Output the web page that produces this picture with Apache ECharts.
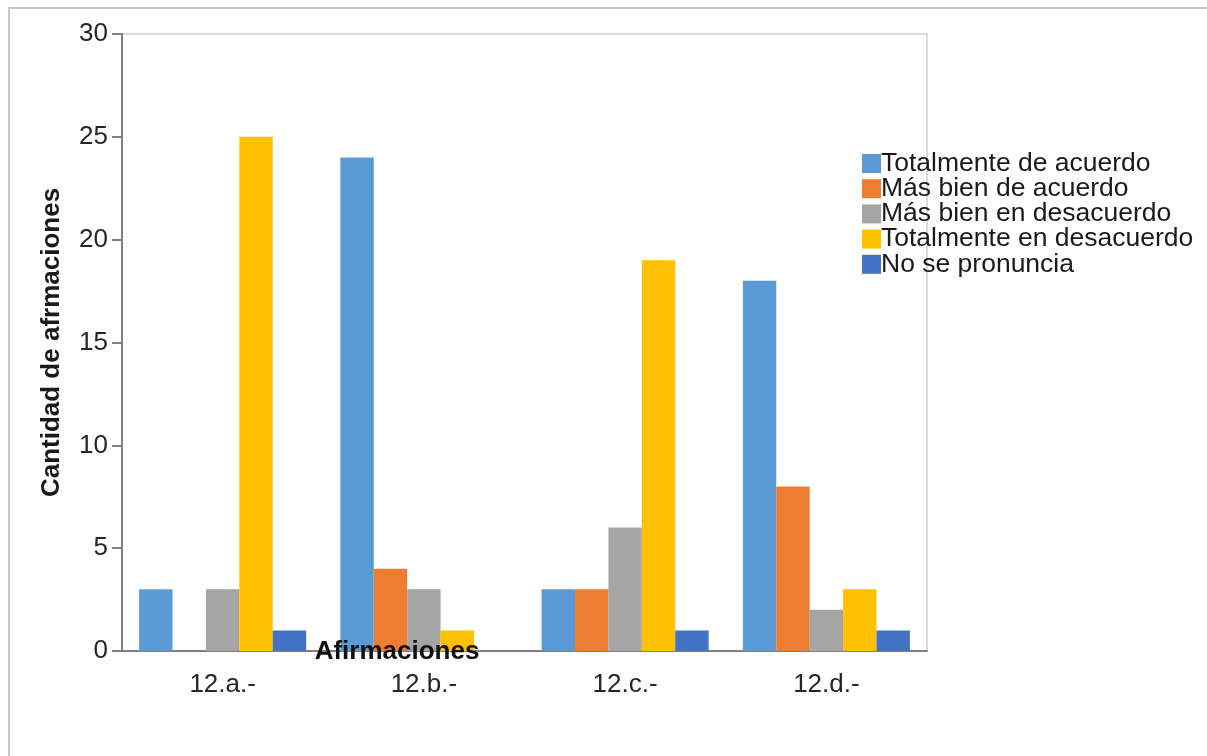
<!DOCTYPE html>
<html><head><meta charset="utf-8">
<script src="https://cdn.jsdelivr.net/npm/echarts@6/dist/echarts.min.js"></script>
<style>html,body{margin:0;padding:0;background:#fff}#c{width:1207px;height:756px}</style>
</head><body><div id="c"></div>
<script>
const categories = ['12.a.-', '12.b.-', '12.c.-', '12.d.-'];
const seriesNames = ['Totalmente de acuerdo', 'Más bien de acuerdo', 'Más bien en desacuerdo', 'Totalmente en desacuerdo', 'No se pronuncia'];
const totalmenteDeAcuerdo = [3, 24, 3, 18];
const masBienDeAcuerdo = [0, 4, 3, 8];
const masBienEnDesacuerdo = [3, 3, 6, 2];
const totalmenteEnDesacuerdo = [25, 1, 19, 3];
const noSePronuncia = [1, 0, 1, 1];
const colors = ['#5B9BD5', '#ED7D31', '#A5A5A5', '#FFC000', '#4472C4'];
const yTicks = [0, 5, 10, 15, 20, 25, 30];

const values = [totalmenteDeAcuerdo, masBienDeAcuerdo, masBienEnDesacuerdo, totalmenteEnDesacuerdo, noSePronuncia];
const font = 'Liberation Sans, Arial, sans-serif';
const chart = echarts.init(document.getElementById('c'));
chart.setOption({
  animation: false,
  color: colors,
  textStyle: { fontFamily: font },
  grid: { left: 122, top: 34, right: 280, bottom: 105, show: true, borderColor: '#d0d0d0', borderWidth: 1.5 },
  legend: {
    orient: 'vertical', left: 862, top: 150, padding: 0, itemGap: -1.8, itemWidth: 19, itemHeight: 19,
    icon: 'rect', textStyle: { fontSize: 26.5, lineHeight: 25, color: '#1a1a1a', fontFamily: font, padding: [0, 0, 0, -5] },
    data: seriesNames
  },
  xAxis: {
    type: 'category', data: categories,
    axisLine: { lineStyle: { color: '#808080', width: 2 } },
    axisTick: { show: false },
    axisLabel: { fontSize: 26, color: '#262626', margin: 21, fontFamily: font }
  },
  yAxis: {
    type: 'value', min: yTicks[0], max: yTicks[yTicks.length - 1], interval: 5,
    name: 'Cantidad de afrmaciones', nameLocation: 'middle', nameGap: 57, nameRotate: 90,
    nameTextStyle: { fontSize: 26, fontWeight: 'bold', color: '#1a1a1a', fontFamily: font },
    axisLine: { show: true, lineStyle: { color: '#808080', width: 2 } },
    axisTick: { show: true, length: 10, lineStyle: { color: '#808080', width: 2 } },
    splitLine: { show: false },
    axisLabel: { fontSize: 26, color: '#262626', margin: 14, fontFamily: font }
  },
  series: seriesNames.map((n, i) => ({
    name: n, type: 'bar', data: values[i], barGap: '0%', barCategoryGap: '17%'
  })),
  graphic: [
    { type: 'rect', shape: { x: 9, y: 8, width: 1400, height: 900 }, style: { fill: 'none', stroke: '#c8c8c8', lineWidth: 2 }, z: 100 },
    { type: 'text', x: 397, y: 652, style: { text: 'Afirmaciones', font: 'bold 26px ' + font, fill: '#111', textAlign: 'center', textVerticalAlign: 'middle' }, z: 100 }
  ]
});
</script></body></html>
